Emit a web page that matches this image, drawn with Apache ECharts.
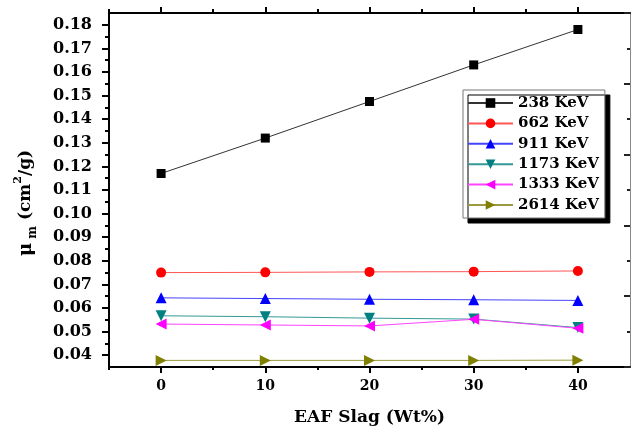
<!DOCTYPE html>
<html>
<head>
<meta charset="utf-8">
<script src="https://cdn.jsdelivr.net/npm/echarts@6/dist/echarts.min.js"></script>
<style>html,body{margin:0;padding:0;background:#fff}#c{width:631px;height:427px}</style>
</head>
<body>
<div id="c"></div>
<script>
// ---- data ----
const xValues = [0, 10, 20, 30, 40];
const xTickLabels = [0, 10, 20, 30, 40];
const xMinorTicks = [-5, 5, 15, 25, 35];
const yTickLabels = [0.04, 0.05, 0.06, 0.07, 0.08, 0.09, 0.10, 0.11, 0.12, 0.13, 0.14, 0.15, 0.16, 0.17, 0.18];
const yMinorTicks = [0.045, 0.055, 0.065, 0.075, 0.085, 0.095, 0.105, 0.115, 0.125, 0.135, 0.145, 0.155, 0.165, 0.175];
const seriesNames = ['238 KeV', '662 KeV', '911 KeV', '1173 KeV', '1333 KeV', '2614 KeV'];
const kev238  = [0.117, 0.132, 0.1475, 0.163, 0.178];
const kev662  = [0.0750, 0.0751, 0.0753, 0.0754, 0.0757];
const kev911  = [0.0643, 0.0640, 0.0637, 0.0635, 0.0632];
const kev1173 = [0.0567, 0.0563, 0.0557, 0.0553, 0.0517];
const kev1333 = [0.0532, 0.0528, 0.0524, 0.0552, 0.0514];
const kev2614 = [0.0378, 0.0378, 0.0378, 0.0378, 0.0379];

const FONT = 'DejaVu Serif';
const pairs = v => xValues.map((x, i) => [x, v[i]]);
const mk = (name, vals, color, lineColor, symbol, size, rot) => ({
  name, type: 'line', data: pairs(vals), xAxisIndex: 0, yAxisIndex: 0,
  symbol, symbolSize: size, symbolRotate: rot || 0,
  itemStyle: { color: color }, lineStyle: { color: lineColor, width: 1 },
  emphasis: { disabled: true }
});
const line = (show, color, width) => ({ show, onZero: false, lineStyle: { color, width } });

const chart = echarts.init(document.getElementById('c'), null, { renderer: 'canvas' });
chart.setOption({
  animation: false,
  backgroundColor: '#fff',
  grid: { left: 109, right: 1, top: 13, bottom: 60, containLabel: false, outerBoundsMode: 'none' },
  legend: {
    orient: 'vertical', left: 463, top: 90,
    padding: [5, 6, 5, 4],
    itemWidth: 45, itemHeight: 12, itemGap: 4.4,
    backgroundColor: '#fff', borderColor: '#777', borderWidth: 1,
    shadowColor: '#000', shadowBlur: 0, shadowOffsetX: 5, shadowOffsetY: 5,
    textStyle: { fontFamily: FONT, fontWeight: 'bold', fontSize: 15, color: '#000', lineHeight: 16 },
    data: seriesNames
  },
  xAxis: [
    { type: 'value', position: 'bottom', min: -5, max: 45,
      axisLine: line(true, '#000', 2),
      axisTick: { customValues: xTickLabels, length: 6, lineStyle: { width: 2, color: '#000' } },
      axisLabel: { customValues: xTickLabels, margin: 12, fontFamily: FONT, fontWeight: 'bold', fontSize: 14, color: '#000' },
      splitLine: { show: false },
      name: 'EAF Slag (Wt%)', nameLocation: 'middle', nameGap: 42,
      nameTextStyle: { fontFamily: FONT, fontWeight: 'bold', fontSize: 17, color: '#000' } },
    { type: 'value', position: 'bottom', min: -5, max: 45,
      axisLine: line(false, '#000', 2),
      axisTick: { customValues: xMinorTicks, length: 3, lineStyle: { width: 2, color: '#000' } },
      axisLabel: { show: false }, splitLine: { show: false } },
    { type: 'value', position: 'top', min: -5, max: 45,
      axisLine: line(true, '#000', 2),
      axisTick: { customValues: xTickLabels, length: 6, lineStyle: { width: 2, color: '#000' } },
      axisLabel: { show: false }, splitLine: { show: false } },
    { type: 'value', position: 'top', min: -5, max: 45,
      axisLine: line(false, '#000', 2),
      axisTick: { customValues: xMinorTicks, length: 4, lineStyle: { width: 2, color: '#000' } },
      axisLabel: { show: false }, splitLine: { show: false } }
  ],
  yAxis: [
    { type: 'value', position: 'left', min: 0.035, max: 0.185,
      axisLine: line(true, '#000', 2),
      axisTick: { show: true, customValues: yTickLabels, length: 7, lineStyle: { width: 2, color: '#000' } },
      axisLabel: { customValues: yTickLabels, margin: 17, fontFamily: FONT, fontWeight: 'bold', fontSize: 16, color: '#000',
        formatter: v => Number(v).toFixed(2) },
      splitLine: { show: false },
      name: '{mu|μ}{sub| m}{n| (cm}{sup|2}{n|/g)}', nameLocation: 'middle', nameGap: 70, nameRotate: 90,
      nameTextStyle: { padding: [0, 26, 0, 0],
        rich: {
          mu: { fontFamily: FONT, fontWeight: 'bold', fontSize: 18, color: '#000', verticalAlign: 'middle', lineHeight: 26 },
          sub: { fontFamily: FONT, fontWeight: 'bold', fontSize: 12, color: '#000', verticalAlign: 'bottom', lineHeight: 26 },
          n: { fontFamily: FONT, fontWeight: 'bold', fontSize: 17, color: '#000', verticalAlign: 'middle', lineHeight: 26 },
          sup: { fontFamily: FONT, fontWeight: 'bold', fontSize: 11, color: '#000', verticalAlign: 'top', lineHeight: 26 }
        } } },
    { type: 'value', position: 'left', min: 0.035, max: 0.185,
      axisLine: line(false, '#000', 2),
      axisTick: { show: true, customValues: yMinorTicks, length: 4, lineStyle: { width: 2, color: '#000' } },
      axisLabel: { show: false }, splitLine: { show: false } },
    { type: 'value', position: 'right', min: 0, max: 5, interval: 1,
      axisLine: line(true, '#888', 1),
      axisTick: { show: true, inside: true, length: 6, lineStyle: { width: 2, color: '#222' } },
      minorTick: { show: true, splitNumber: 2, length: 3, lineStyle: { width: 2, color: '#222' } },
      axisLabel: { show: false }, splitLine: { show: false }, minorSplitLine: { show: false } }
  ],
  series: [
    mk(seriesNames[0], kev238, '#000', '#333', 'rect', 9),
    mk(seriesNames[1], kev662, '#ff0000', '#ff5555', 'circle', 10),
    mk(seriesNames[2], kev911, '#0000ff', '#4444ff', 'triangle', 11),
    mk(seriesNames[3], kev1173, '#008080', '#339999', 'triangle', 11, 180),
    mk(seriesNames[4], kev1333, '#ff00ff', '#ff44ff', 'triangle', 11, 90),
    mk(seriesNames[5], kev2614, '#808000', '#9a9a40', 'triangle', 11, -90)
  ]
});
</script>
</body>
</html>
